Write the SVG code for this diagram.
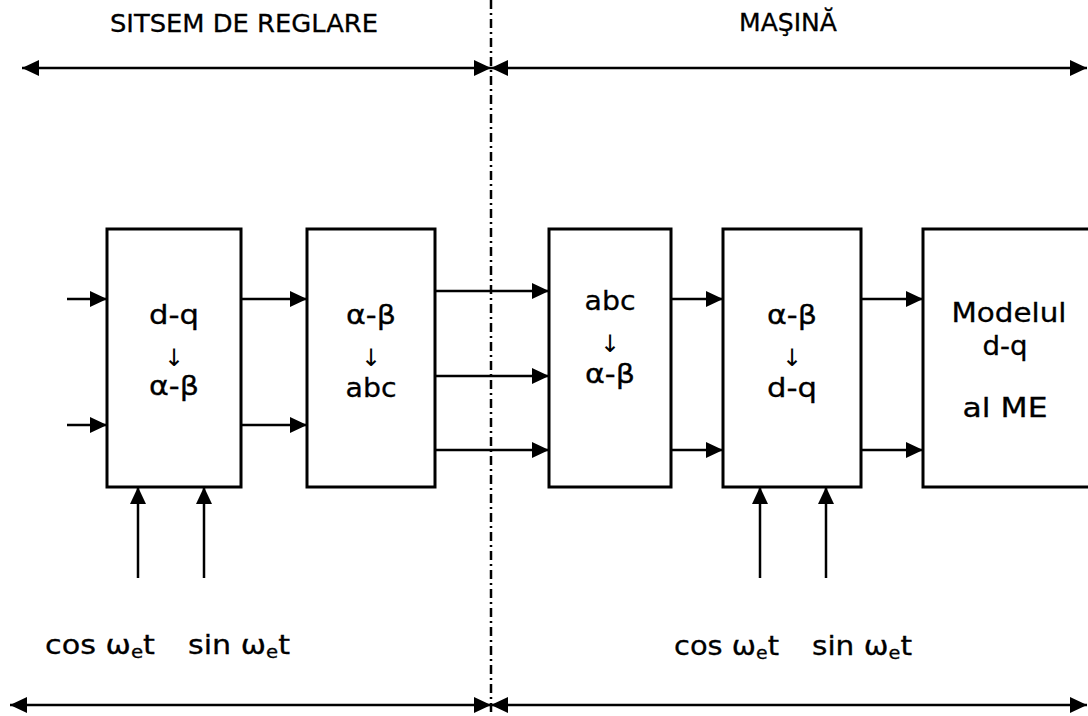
<svg xmlns="http://www.w3.org/2000/svg" width="1088" height="716" viewBox="0 0 1088 716">
<style>
.box{fill:#fff;stroke:#000;stroke-width:3}
.ln{fill:none;stroke:#000;stroke-width:2.5}
.t{font-family:"DejaVu Sans","Verdana",sans-serif;fill:#000;stroke:#000;stroke-width:0.3;text-anchor:middle}
.tl{font-family:"DejaVu Sans","Verdana",sans-serif;fill:#000;stroke:#000;stroke-width:0.3}
.ar{font-family:"DejaVu Sans",sans-serif;fill:#000;text-anchor:middle;font-size:24px}
</style>
<defs>
<marker id="ah" viewBox="0 0 17 16" refX="17" refY="8" markerWidth="17" markerHeight="16" markerUnits="userSpaceOnUse" orient="auto-start-reverse">
<path d="M0,0 L17,8 L0,16 z" fill="#000"/>
</marker>
</defs>
<rect width="1088" height="716" fill="#fff"/>
<g id="labels">
<text class="tl" x="110" y="32" font-size="25" textLength="268" lengthAdjust="spacingAndGlyphs">SITSEM DE REGLARE</text>
<text class="tl" x="739" y="31" font-size="25" textLength="98" lengthAdjust="spacingAndGlyphs">MAŞINĂ</text>
<text class="tl" x="45" y="654" font-size="26" textLength="110" lengthAdjust="spacingAndGlyphs">cos ω<tspan font-size="17" dy="4">e</tspan><tspan dy="-4">t</tspan></text>
<text class="tl" x="188" y="654" font-size="26" textLength="102" lengthAdjust="spacingAndGlyphs">sin ω<tspan font-size="17" dy="4">e</tspan><tspan dy="-4">t</tspan></text>
<text class="tl" x="674" y="655" font-size="26" textLength="105" lengthAdjust="spacingAndGlyphs">cos ω<tspan font-size="17" dy="4">e</tspan><tspan dy="-4">t</tspan></text>
<text class="tl" x="812" y="655" font-size="26" textLength="100" lengthAdjust="spacingAndGlyphs">sin ω<tspan font-size="17" dy="4">e</tspan><tspan dy="-4">t</tspan></text>
</g>
<g id="n1">
<rect class="box" x="107" y="229" width="134" height="258"/>
<text class="t" x="174" y="324" font-size="26" textLength="50" lengthAdjust="spacingAndGlyphs">d-q</text>
<text class="ar" x="174" y="366">↓</text>
<text class="t" x="174" y="395" font-size="26" textLength="50" lengthAdjust="spacingAndGlyphs">α-β</text>
</g>
<g id="n2">
<rect class="box" x="307" y="229" width="128" height="258"/>
<text class="t" x="371" y="324" font-size="26" textLength="50" lengthAdjust="spacingAndGlyphs">α-β</text>
<text class="ar" x="371" y="366">↓</text>
<text class="t" x="371" y="397" font-size="26" textLength="51" lengthAdjust="spacingAndGlyphs">abc</text>
</g>
<g id="n3">
<rect class="box" x="549" y="229" width="122" height="258"/>
<text class="t" x="610" y="310" font-size="26" textLength="51" lengthAdjust="spacingAndGlyphs">abc</text>
<text class="ar" x="610" y="352">↓</text>
<text class="t" x="610" y="383" font-size="26" textLength="50" lengthAdjust="spacingAndGlyphs">α-β</text>
</g>
<g id="n4">
<rect class="box" x="723" y="229" width="138" height="258"/>
<text class="t" x="792" y="324" font-size="26" textLength="50" lengthAdjust="spacingAndGlyphs">α-β</text>
<text class="ar" x="792" y="366">↓</text>
<text class="t" x="792" y="397" font-size="26" textLength="50" lengthAdjust="spacingAndGlyphs">d-q</text>
</g>
<g id="n5">
<rect class="box" x="923" y="229" width="175" height="258"/>
<text class="t" x="1009" y="322" font-size="26" textLength="115" lengthAdjust="spacingAndGlyphs">Modelul</text>
<text class="t" x="1005" y="355" font-size="26" textLength="45" lengthAdjust="spacingAndGlyphs">d-q</text>
<text class="t" x="1005" y="417" font-size="26" textLength="85" lengthAdjust="spacingAndGlyphs">al ME</text>
</g>
<g id="connectors">
<line x1="491" y1="0" x2="491" y2="716" stroke="#000" stroke-width="2.5" stroke-dasharray="9 4 2 4"/>
<line class="ln" x1="22" y1="68" x2="491" y2="68" marker-start="url(#ah)" marker-end="url(#ah)"/>
<line class="ln" x1="491" y1="68" x2="1087" y2="68" marker-start="url(#ah)" marker-end="url(#ah)"/>
<line class="ln" x1="10" y1="705" x2="491" y2="705" marker-start="url(#ah)" marker-end="url(#ah)"/>
<line class="ln" x1="491" y1="705" x2="1087" y2="705" marker-start="url(#ah)" marker-end="url(#ah)"/>
<line class="ln" x1="67" y1="299" x2="107" y2="299" marker-end="url(#ah)"/>
<line class="ln" x1="67" y1="425" x2="107" y2="425" marker-end="url(#ah)"/>
<line class="ln" x1="241" y1="299" x2="307" y2="299" marker-end="url(#ah)"/>
<line class="ln" x1="241" y1="425" x2="307" y2="425" marker-end="url(#ah)"/>
<line class="ln" x1="435" y1="291" x2="549" y2="291" marker-end="url(#ah)"/>
<line class="ln" x1="435" y1="376" x2="549" y2="376" marker-end="url(#ah)"/>
<line class="ln" x1="435" y1="450" x2="549" y2="450" marker-end="url(#ah)"/>
<line class="ln" x1="671" y1="299" x2="723" y2="299" marker-end="url(#ah)"/>
<line class="ln" x1="671" y1="450" x2="723" y2="450" marker-end="url(#ah)"/>
<line class="ln" x1="861" y1="299" x2="923" y2="299" marker-end="url(#ah)"/>
<line class="ln" x1="861" y1="450" x2="923" y2="450" marker-end="url(#ah)"/>
<line class="ln" x1="138" y1="578" x2="138" y2="487" marker-end="url(#ah)"/>
<line class="ln" x1="204" y1="578" x2="204" y2="487" marker-end="url(#ah)"/>
<line class="ln" x1="760" y1="578" x2="760" y2="487" marker-end="url(#ah)"/>
<line class="ln" x1="826" y1="578" x2="826" y2="487" marker-end="url(#ah)"/>
</g>
</svg>
